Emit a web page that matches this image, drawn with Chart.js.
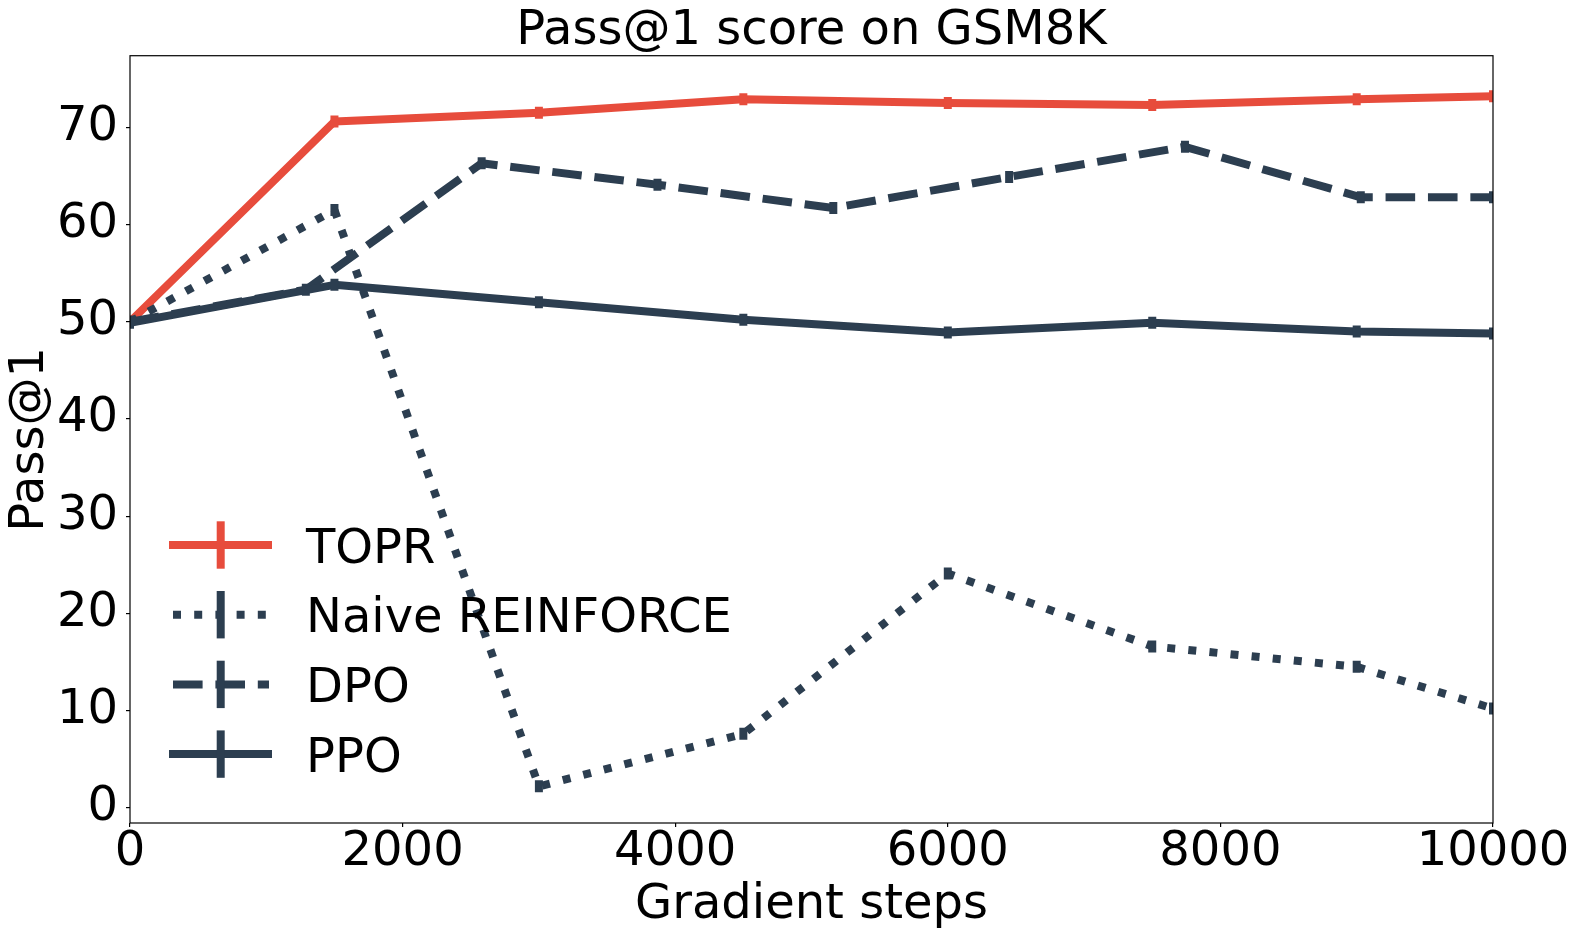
<!DOCTYPE html>
<html>
<head>
<meta charset="utf-8">
<title>Pass@1 score on GSM8K</title>
<script src="https://cdn.jsdelivr.net/npm/chart.js@4.4.0/dist/chart.umd.min.js"></script>
<style>
  html, body { margin: 0; padding: 0; background: #fff; }
</style>
</head>
<body>
<canvas id="lineChart" width="1578" height="940"></canvas>
<script>
// data
var seriesNames = ['TOPR', 'Naive REINFORCE', 'DPO', 'PPO'];
var steps = [0, 1500, 3000, 4500, 6000, 7500, 9000, 10000];
var stepsDpo = [0, 1290, 2580, 3870, 5160, 6450, 7740, 9030, 10000];
var topr = [50.0, 70.6, 71.5, 72.9, 72.5, 72.3, 72.9, 73.2];
var naive = [50.0, 61.5, 2.2, 7.6, 24.1, 16.6, 14.5, 10.2];
var dpo = [50.0, 53.3, 66.3, 64.1, 61.7, 64.9, 68.0, 62.8, 62.8];
var ppo = [49.9, 53.8, 52.0, 50.2, 48.9, 49.9, 49.0, 48.8];
var xTicks = [0, 2000, 4000, 6000, 8000, 10000];
var yTicks = [0, 10, 20, 30, 40, 50, 60, 70];

var RED = '#e74c3c';
var NAVY = '#2c3e50';

Chart.defaults.font.family = '"DejaVu Sans", sans-serif';
Chart.defaults.color = '#000';

function pairs(xs, ys) {
  return ys.map(function(v, i) { return { x: xs[i], y: v }; });
}

function series(label, xs, ys, color, dash, order) {
  return {
    label: label,
    data: pairs(xs, ys),
    borderColor: color,
    backgroundColor: color,
    borderWidth: 8,
    borderDash: dash,
    borderCapStyle: 'butt',
    borderJoinStyle: 'round',
    tension: 0,
    fill: false,
    clip: 0,
    order: order,
    pointStyle: 'line',
    rotation: 90,
    pointRadius: 6,
    pointBorderWidth: 8,
    pointBorderColor: color,
    pointHoverRadius: 6
  };
}

// box round the plot + matplotlib style legend
var framePlugin = {
  id: 'frame',
  afterDatasetsDraw: function(chart) {
    var a = chart.chartArea;
    var ctx = chart.ctx;
    ctx.save();
    ctx.strokeStyle = '#000';
    ctx.lineWidth = 1.2;
    ctx.setLineDash([]);
    ctx.strokeRect(a.left, a.top, a.right - a.left, a.bottom - a.top);

    var x0 = a.left + 39;
    chart.data.datasets.forEach(function(ds, i) {
      var y = a.bottom - 278 + i * 69.7;
      var dash = ds.borderDash || [];
      ctx.strokeStyle = ds.borderColor;
      ctx.lineWidth = 8;
      ctx.lineCap = 'butt';
      ctx.setLineDash(dash);
      ctx.beginPath();
      if (dash.length) {
        ctx.moveTo(x0 + 4, y);
        ctx.lineTo(x0 + 100, y);
      } else {
        ctx.moveTo(x0, y);
        ctx.lineTo(x0 + 103, y);
      }
      ctx.stroke();
      ctx.setLineDash([]);
      ctx.beginPath();
      ctx.moveTo(x0 + 51.7, y - 23.7);
      ctx.lineTo(x0 + 51.7, y + 23.7);
      ctx.stroke();
      ctx.fillStyle = '#000';
      ctx.font = '48px "DejaVu Sans"';
      ctx.textBaseline = 'alphabetic';
      ctx.textAlign = 'left';
      ctx.fillText(ds.label, x0 + 137, y + 17.5);
    });
    ctx.restore();
  }
};

new Chart(document.getElementById('lineChart'), {
  type: 'line',
  data: {
    datasets: [
      series(seriesNames[0], steps, topr, RED, [], 4),
      series(seriesNames[1], steps, naive, NAVY, [8, 13.2], 3),
      series(seriesNames[2], stepsDpo, dpo, NAVY, [29.6, 12.8], 2),
      series(seriesNames[3], steps, ppo, NAVY, [], 1)
    ]
  },
  options: {
    responsive: false,
    animation: false,
    devicePixelRatio: 1,
    events: [],
    layout: { padding: { top: 0, right: 85, bottom: 0, left: 0 } },
    plugins: {
      legend: { display: false },
      tooltip: { enabled: false },
      title: {
        display: true,
        text: 'Pass@1 score on GSM8K',
        color: '#000',
        fullSize: false,
        font: { size: 48, weight: 'normal', lineHeight: 0.994 },
        padding: { top: 8, bottom: 0 }
      }
    },
    scales: {
      x: {
        type: 'linear',
        min: 0,
        max: 10000,
        afterBuildTicks: function(s) { s.ticks = xTicks.map(function(v) { return { value: v }; }); },
        afterFit: function(s) { s.height = 117; },
        border: { display: false },
        grid: { drawOnChartArea: false, drawTicks: true, tickLength: 4, color: '#000', lineWidth: 1.2 },
        ticks: {
          color: '#000',
          padding: 2,
          maxRotation: 0,
          autoSkip: false,
          font: { size: 48, lineHeight: 1 },
          callback: function(v) { return String(v); }
        },
        title: {
          display: true,
          text: 'Gradient steps',
          color: '#000',
          font: { size: 48, lineHeight: 1.2 },
          padding: { top: 0, bottom: 6 }
        }
      },
      y: {
        type: 'linear',
        min: -1.57,
        max: 77.37,
        afterBuildTicks: function(s) { s.ticks = yTicks.map(function(v) { return { value: v }; }); },
        afterFit: function(s) { s.width = 130; },
        border: { display: false },
        grid: { drawOnChartArea: false, drawTicks: true, tickLength: 4, color: '#000', lineWidth: 1.2 },
        ticks: {
          color: '#000',
          padding: 8,
          font: { size: 48, lineHeight: 1 },
          callback: function(v) { return String(v); }
        },
        title: {
          display: true,
          text: 'Pass@1',
          color: '#000',
          font: { size: 48, lineHeight: 1.2 },
          padding: { top: 2, bottom: 0 }
        }
      }
    }
  },
  plugins: [framePlugin]
});
</script>
</body>
</html>
